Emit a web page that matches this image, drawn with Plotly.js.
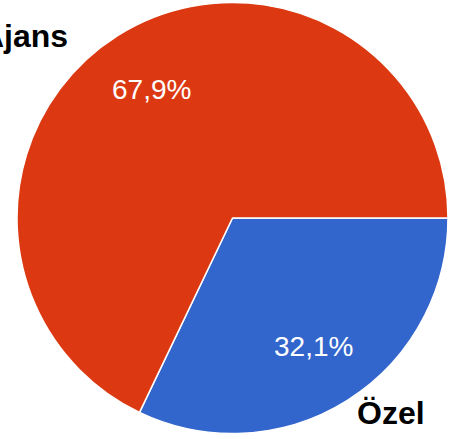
<!DOCTYPE html>
<html>
<head>
<meta charset="utf-8">
<script src="https://cdn.plot.ly/plotly-3.0.1.min.js"></script>
<style>html,body{margin:0;padding:0;background:#fff;}#chart{width:453px;height:439px;}</style>
</head>
<body>
<div id="chart"></div>
<script>
const labels = ['Özel', 'Ajans'];
const values = [32.1, 67.9];
const colors = ['#3366cc', '#dc3912'];

const W = 453, H = 439;
// pie geometry in pixels
const CX = 232.5, CY = 218, R = 215.5;
const TEXT_R = 0.705; // fraction of radius for percentage labels
// label placement (pixels) for outside category names
const labelPos = {
  'Ajans': {x: 70, y: 36, anchor: 'right'},
  'Özel': {x: 355, y: 413, anchor: 'left'}
};

const trace = {
  type: 'pie',
  labels: labels,
  values: values,
  sort: false,
  direction: 'clockwise',
  rotation: 90,
  marker: {colors: colors, line: {color: '#ffffff', width: 1.5}},
  textinfo: 'none',
  hoverinfo: 'none',
  domain: {x: [(CX - R) / W, (CX + R) / W], y: [(H - CY - R) / H, (H - CY + R) / H]}
};

const total = values.reduce((a, b) => a + b, 0);
const fmtPct = v => (v / total * 100).toFixed(1).replace('.', ',') + '%';
let cum = 0;
const pctAnnotations = values.map((v, i) => {
  const theta = (cum + v / 2) / total * 2 * Math.PI; // clockwise from 3 o'clock
  cum += v;
  const px = CX + TEXT_R * R * Math.cos(theta);
  const py = CY + TEXT_R * R * Math.sin(theta);
  return {
    text: fmtPct(v),
    xref: 'paper', yref: 'paper',
    x: px / W, y: 1 - py / H,
    xanchor: 'center', yanchor: 'middle',
    showarrow: false,
    font: {family: 'Liberation Sans, Arial, sans-serif', size: 28, color: '#ffffff'}
  };
});

const labelAnnotations = labels.map(l => ({
  text: '<b>' + l + '</b>',
  xref: 'paper', yref: 'paper',
  x: labelPos[l].x / W, y: 1 - labelPos[l].y / H,
  xanchor: labelPos[l].anchor, yanchor: 'middle',
  showarrow: false,
  font: {family: 'Liberation Sans, Arial, sans-serif', size: 32, color: '#000000'}
}));

const layout = {
  width: W, height: H,
  margin: {l: 0, r: 0, t: 0, b: 0},
  paper_bgcolor: '#ffffff',
  showlegend: false,
  separators: ',.',
  annotations: pctAnnotations.concat(labelAnnotations)
};

Plotly.newPlot('chart', [trace], layout, {displayModeBar: false, staticPlot: true});
</script>
</body>
</html>
